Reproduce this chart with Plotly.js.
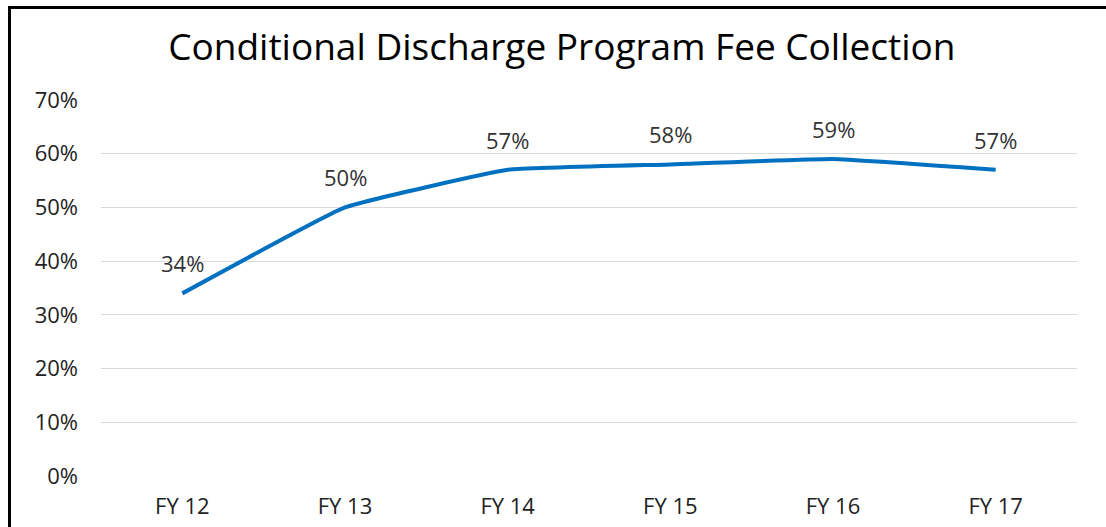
<!DOCTYPE html>
<html>
<head>
<meta charset="utf-8">
<script src="https://cdn.plot.ly/plotly-3.0.1.min.js"></script>
<style>
html,body{margin:0;padding:0;background:#fff;overflow:hidden;}
#wrap{position:relative;width:1106px;height:527px;}
#chart{position:absolute;left:0;top:0;width:1106px;height:527px;}
#frame{position:absolute;left:8px;top:6px;width:1200px;height:600px;border-left:3px solid #000;border-top:3px solid #000;pointer-events:none;}
</style>
</head>
<body>
<div id="wrap"><div id="chart"></div><div id="frame"></div></div>
<script>
const categories = ["FY 12","FY 13","FY 14","FY 15","FY 16","FY 17"];
const feeCollection = [0.34, 0.50, 0.57, 0.58, 0.59, 0.57];
const pointLabels = ["34%","50%","57%","58%","59%","57%"];
const yTickVals = [0,0.1,0.2,0.3,0.4,0.5,0.6,0.7];
const yTickText = ["0%","10%","20%","30%","40%","50%","60%","70%"];

const font = "Open Sans, Liberation Sans, sans-serif";

const trace = {
  x: categories, y: feeCollection, type: "scatter", mode: "lines",
  line: {color: "#0070C0", width: 4, shape: "spline", smoothing: 0.3},
  hoverinfo: "skip"
};

const annotations = categories.map((c, i) => ({
  x: c, y: feeCollection[i], xref: "x", yref: "y",
  text: pointLabels[i], showarrow: false, yshift: 30,
  font: {family: font, size: 22, color: "#333"}
}));

const layout = {
  width: 1106, height: 527,
  margin: {l: 101, r: 29, t: 100, b: 51},
  paper_bgcolor: "#fff", plot_bgcolor: "#fff",
  showlegend: false,
  title: {text: "Conditional Discharge Program Fee Collection", x: 0.508, xref: "container", xanchor: "center", y: 0.91, yref: "container", yanchor: "middle",
    font: {family: font, size: 37, color: "#000"}},
  xaxis: {type: "category", range: [-0.5, 5.5], showgrid: false, zeroline: false, showline: false,
    ticks: "", ticklabelstandoff: 15, tickfont: {family: font, size: 22, color: "#222"}, fixedrange: true},
  yaxis: {range: [0, 0.7], tickvals: yTickVals, ticktext: yTickText, showgrid: true, gridcolor: "#d9d9d9", gridwidth: 1,
    zeroline: false, showline: false, ticks: "", ticklabelstandoff: 22, tickfont: {family: font, size: 22, color: "#222"}, fixedrange: true},
  annotations: annotations
};

Plotly.newPlot("chart", [trace], layout, {displayModeBar: false, staticPlot: true});
</script>
</body>
</html>
